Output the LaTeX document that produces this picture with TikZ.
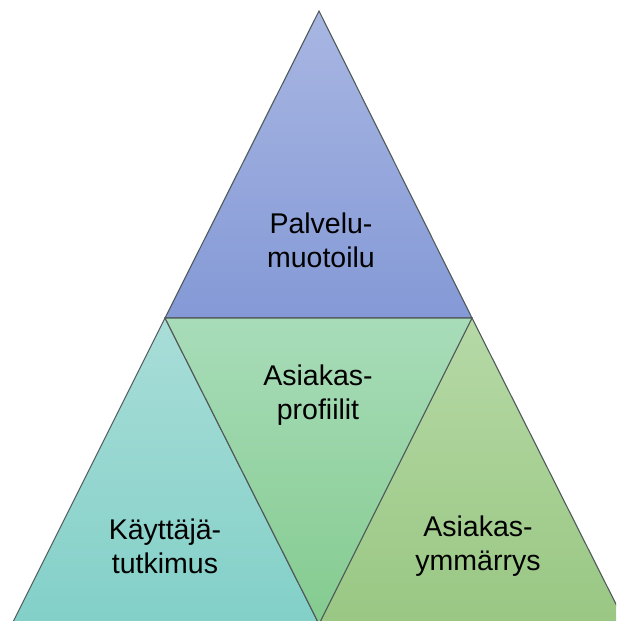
\documentclass[tikz,border=0pt]{standalone}
\usepackage{fontspec}
\setmainfont{Liberation Sans}
\definecolor{topA}{HTML}{A8B6E2}
\definecolor{topB}{HTML}{8499D6}
\definecolor{leftA}{HTML}{A9DDD8}
\definecolor{leftB}{HTML}{82D0C8}
\definecolor{midA}{HTML}{A8DCB9}
\definecolor{midB}{HTML}{84CB8F}
\definecolor{rightA}{HTML}{B6D9A6}
\definecolor{rightB}{HTML}{99C783}
\definecolor{edge}{HTML}{505A5A}
\begin{document}
\begin{tikzpicture}[x=1pt,y=-1pt,
  tri/.style={draw=edge,line width=1.1pt,line join=miter},
  lbl/.style={align=center,font=\fontsize{28.5}{34}\selectfont,text=black}]
\useasboundingbox (0,0) rectangle (616,621);
\clip (0,0) rectangle (616,621);
\coordinate (apex) at (319,11);
\coordinate (ml) at (165,318);
\coordinate (mr) at (472,318);
\coordinate (bl) at (12,624);
\coordinate (bm) at (319,624);
\coordinate (br) at (626,624);
\path[tri,top color=topA,bottom color=topB] (apex) -- (mr) -- (ml) -- cycle;
\path[tri,top color=leftA,bottom color=leftB] (ml) -- (bm) -- (bl) -- cycle;
\path[tri,top color=rightA,bottom color=rightB] (mr) -- (br) -- (bm) -- cycle;
\path[tri,top color=midA,bottom color=midB] (ml) -- (mr) -- (bm) -- cycle;
\node[lbl] (palvelu) at (321,240) {Palvelu-\\muotoilu};
\node[lbl] (profiilit) at (318,395) {Asiakas-\\profiilit};
\node[lbl] (kayttaja) at (165,546) {Käyttäjä-\\tutkimus};
\node[lbl] (ymmarrys) at (478,546) {Asiakas-\\ymmärrys};
\end{tikzpicture}
\end{document}
